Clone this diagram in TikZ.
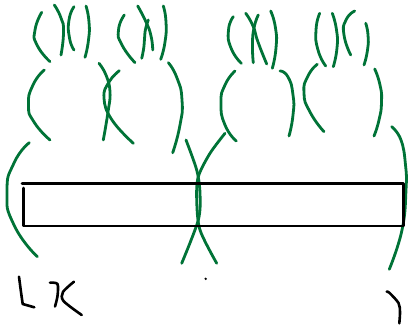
\documentclass[tikz,border=0pt]{standalone}
\definecolor{sketchgreen}{RGB}{0,115,55}
\tikzset{
  gstroke/.style={draw=sketchgreen, line width=2.8pt, line cap=round, line join=round},
  bstroke/.style={draw=black, line width=2.6pt, line cap=round, line join=round},
}
\begin{document}
\begin{tikzpicture}[x=1pt,y=-1pt]
\useasboundingbox[fill=white] (0,0) rectangle (409,326);
% top row arcs
\draw[gstroke] plot[smooth,tension=1] coordinates {(41.7,12.3) (35,30) (37,45) (50,61.7)};
\draw[gstroke] plot[smooth,tension=1] coordinates {(54.3,5) (61,18) (63.5,32) (61,55)};
\draw[gstroke] plot[smooth,tension=1] coordinates {(74,6.7) (69,20) (69.5,38) (74,50)};
\draw[gstroke] plot[smooth,tension=1] coordinates {(86,6) (89,22) (88.5,40) (85,57.3)};
\draw[gstroke] plot[smooth,tension=1] coordinates {(124.3,15) (118.5,30) (122,45) (135,62.7)};
\draw[gstroke] plot[smooth,tension=1] coordinates {(137.7,6) (146,22) (151,36) (152.7,50)};
\draw[gstroke] plot[smooth,tension=1] coordinates {(148.3,20) (145,32) (144,46) (141.7,58.3)};
\draw[gstroke] plot[smooth,tension=1] coordinates {(163.3,6) (166,22) (165,42) (160.7,59.3)};
\draw[gstroke] plot[smooth,tension=1] coordinates {(233.3,16.7) (228.5,30) (231,48) (241.3,63.3)};
\draw[gstroke] plot[smooth,tension=1] coordinates {(245.7,13.3) (253,26) (258,42) (266.7,64)};
\draw[gstroke] plot[smooth,tension=1] coordinates {(258.3,15) (254,28) (252.5,45) (253.3,62.7)};
\draw[gstroke] plot[smooth,tension=1] coordinates {(270.7,11) (275.5,28) (276,48) (272.3,68.3)};
\draw[gstroke] plot[smooth,tension=1] coordinates {(319.7,13.3) (316,30) (318,50) (325.7,66)};
\draw[gstroke] plot[smooth,tension=1] coordinates {(332.3,13.3) (336.5,30) (337,48) (333.3,66.7)};
\draw[gstroke] plot[smooth,tension=1] coordinates {(354.7,11) (346,20) (344,35) (350.7,55)};
\draw[gstroke] plot[smooth,tension=1] coordinates {(365.7,23.3) (368,35) (367.5,50) (364,65)};
% middle row arcs
\draw[gstroke] plot[smooth,tension=1] coordinates {(44.3,70) (33,85) (28.5,105) (34,122) (50,140)};
\draw[gstroke] plot[smooth,tension=0.8] coordinates {(99,63.3) (106,75) (110,92) (108,112) (103.3,140)};
\draw[gstroke] plot[smooth,tension=0.8] coordinates {(119.3,70.7) (109,82) (104,98) (112,120) (133.3,143.3)};
\draw[gstroke] plot[smooth,tension=1] coordinates {(168.3,62.7) (177,78) (182,100) (180,125) (172.7,152.7)};
\draw[gstroke] plot[smooth,tension=1] coordinates {(235,71) (225,85) (221,103) (225,125) (236.3,141)};
\draw[gstroke] plot[smooth,tension=1] coordinates {(280,71) (288,77) (293,95) (293,115) (289,136)};
\draw[gstroke] plot[smooth,tension=1] coordinates {(317.3,64.3) (308,76) (304,93) (310,112) (324,131.7)};
\draw[gstroke] plot[smooth,tension=1] coordinates {(374.7,69) (380,85) (381.5,102) (379,120) (374,136)};
% bottom row arcs
\draw[gstroke] plot[smooth,tension=1] coordinates {(29.3,142.7) (14,163) (7,192) (14,225) (37.3,256.7)};
\draw[gstroke] plot[smooth] coordinates {(186,140) (196.7,170) (200,193.3) (198.3,220) (181.7,263.3)};
\draw[gstroke] plot[smooth] coordinates {(225,133.3) (210,153.3) (198.3,176.7) (196.7,200) (200,230) (216.7,263.3)};
\draw[gstroke] plot[smooth,tension=0.8] coordinates {(391.7,126.7) (401,140) (405.5,165) (406,190) (402,230) (389.3,269.3)};
% bar
\draw[bstroke] (23.5,188) -- (23.5,226) -- (403.5,226) -- (403.5,183.3) -- (22,183.3);
% handwritten marks
\draw[bstroke] plot[smooth] coordinates {(19,276.7) (21,292) (22.7,304)} -- (34.3,307.3);
\draw[bstroke] plot[smooth] coordinates {(50,282.7) (57.5,284) (57.5,296) (55,306.5)};
\draw[bstroke] plot[smooth] coordinates {(74,281.7) (63,292) (63.5,301) (81.7,315)};
\fill[black] (205.7,278.8) circle (1.3);
\draw[bstroke] plot[smooth] coordinates {(386.7,291.7) (389.3,292.7) (398.5,303) (400,312) (399.3,323.3)};
\end{tikzpicture}
\end{document}
